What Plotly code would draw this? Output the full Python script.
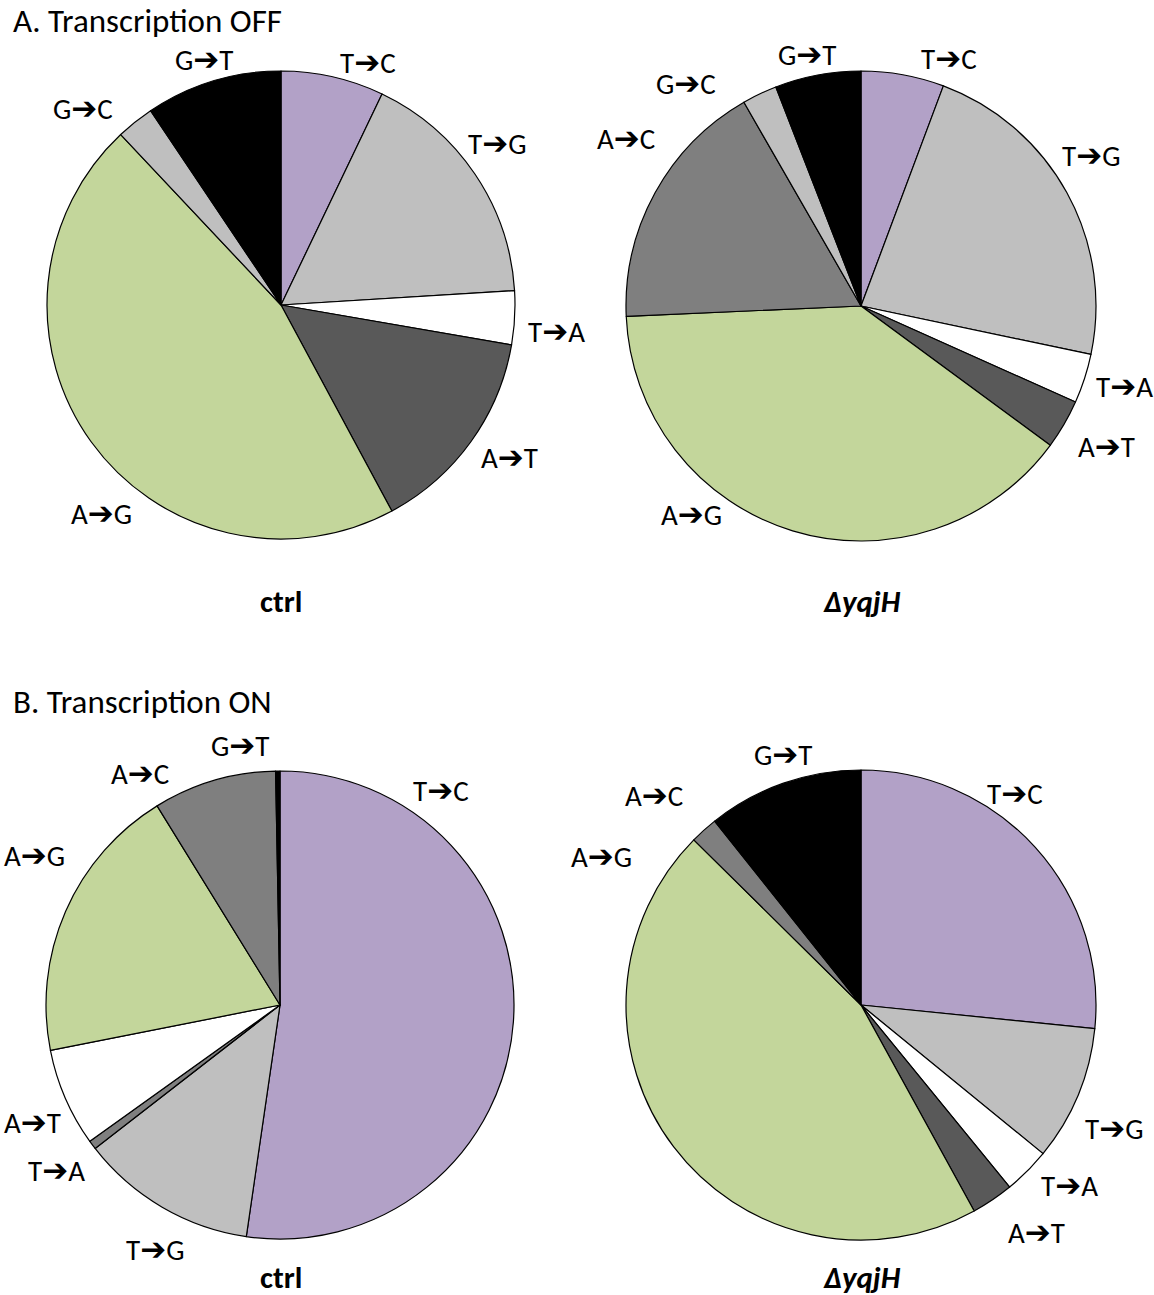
import plotly.graph_objects as go

# Mutation spectra (% of events), slices listed clockwise from 12 o'clock
off_ctrl_labels = ["T➔C", "T➔G", "T➔A", "A➔T", "A➔G", "G➔C", "G➔T"]
off_ctrl_values = [7.1, 16.9, 3.7, 14.4, 45.8, 2.6, 9.4]

off_yqjh_labels = ["T➔C", "T➔G", "T➔A", "A➔T", "A➔G", "A➔C", "G➔C", "G➔T"]
off_yqjh_values = [5.7, 22.6, 3.4, 3.4, 39.2, 17.4, 2.4, 5.9]

on_ctrl_labels = ["T➔C", "T➔G", "T➔A", "A➔T", "A➔G", "A➔C", "G➔T"]
on_ctrl_values = [52.3, 12.2, 0.6, 6.8, 19.3, 8.5, 0.3]

on_yqjh_labels = ["T➔C", "T➔G", "T➔A", "A➔T", "A➔G", "A➔C", "G➔T"]
on_yqjh_values = [26.6, 9.3, 3.2, 2.9, 45.4, 1.9, 10.7]

PURPLE = "#b2a1c7"
LIGHT = "#bfbfbf"
WHITE = "#ffffff"
DARK = "#595959"
GREEN = "#c3d69b"
MID = "#7f7f7f"
BLACK = "#000000"

off_ctrl_colors = [PURPLE, LIGHT, WHITE, DARK, GREEN, LIGHT, BLACK]
off_yqjh_colors = [PURPLE, LIGHT, WHITE, DARK, GREEN, MID, LIGHT, BLACK]
on_ctrl_colors = [PURPLE, LIGHT, MID, WHITE, GREEN, MID, BLACK]
on_yqjh_colors = [PURPLE, LIGHT, WHITE, DARK, GREEN, MID, BLACK]

W, H = 1154, 1295
FONT = "Carlito, Calibri, Lato, DejaVu Sans, sans-serif"


def px_x(x):
    return x / W


def px_y(y):
    return 1 - y / H


def pie_domain(cx, cy, r):
    return dict(x=[px_x(cx - r), px_x(cx + r)], y=[px_y(cy + r), px_y(cy - r)])


def arrow_label(text):
    # heavier arrow between the two bases
    src, dst = text.split("➔")
    return f"{src}<span style='font-size:31px'><b>➔</b></span>{dst}"


# pie centre and radius in pixels
pies = [
    (off_ctrl_labels, off_ctrl_values, off_ctrl_colors, (281, 305, 234)),
    (off_yqjh_labels, off_yqjh_values, off_yqjh_colors, (861, 306, 235)),
    (on_ctrl_labels, on_ctrl_values, on_ctrl_colors, (280, 1005, 234)),
    (on_yqjh_labels, on_yqjh_values, on_yqjh_colors, (861, 1005, 235)),
]

fig = go.Figure()
for labels, values, colors, (cx, cy, r) in pies:
    fig.add_trace(go.Pie(
        labels=labels,
        values=values,
        sort=False,
        direction="clockwise",
        rotation=0,
        textinfo="none",
        hoverinfo="label+percent",
        showlegend=False,
        marker=dict(colors=colors, line=dict(color="#000000", width=1.2)),
        domain=pie_domain(cx, cy, r),
    ))

# slice label placements (pixel centres)
label_pos = [
    # Transcription OFF, ctrl
    ("G➔T", 204, 59), ("T➔C", 368, 62), ("G➔C", 83, 108), ("T➔G", 497, 143),
    ("T➔A", 556, 331), ("A➔T", 509, 457), ("A➔G", 101, 513),
    # Transcription OFF, ΔyqjH
    ("G➔T", 807, 54), ("T➔C", 949, 58), ("G➔C", 686, 83), ("A➔C", 626, 138),
    ("T➔G", 1091, 155), ("T➔A", 1124, 386), ("A➔T", 1106, 446), ("A➔G", 691, 514),
    # Transcription ON, ctrl
    ("G➔T", 240, 745), ("A➔C", 140, 773), ("T➔C", 441, 790), ("A➔G", 34, 855),
    ("A➔T", 32, 1122), ("T➔A", 56, 1170), ("T➔G", 155, 1249),
    # Transcription ON, ΔyqjH
    ("G➔T", 783, 754), ("A➔C", 654, 795), ("T➔C", 1015, 793), ("A➔G", 601, 856),
    ("T➔G", 1114, 1128), ("T➔A", 1069, 1185), ("A➔T", 1036, 1232),
]

annotations = []
for text, x, y in label_pos:
    annotations.append(dict(
        text=arrow_label(text), x=px_x(x), y=px_y(y), xref="paper", yref="paper",
        xanchor="center", yanchor="middle", showarrow=False,
        font=dict(family=FONT, size=29, color="#000000"),
    ))

# panel headings
for text, y in [("A. Transcription OFF", 21), ("B. Transcription ON", 702)]:
    annotations.append(dict(
        text=text, x=px_x(11), y=px_y(y), xref="paper", yref="paper",
        xanchor="left", yanchor="middle", showarrow=False,
        font=dict(family=FONT, size=33, color="#000000"),
    ))

# strain captions
for text, x, y in [
    ("<b>ctrl</b>", 281, 601), ("<b><i>ΔyqjH</i></b>", 862, 601),
    ("<b>ctrl</b>", 281, 1277), ("<b><i>ΔyqjH</i></b>", 862, 1277),
]:
    annotations.append(dict(
        text=text, x=px_x(x), y=px_y(y), xref="paper", yref="paper",
        xanchor="center", yanchor="middle", showarrow=False,
        font=dict(family=FONT, size=31, color="#000000"),
    ))

fig.update_layout(
    width=W, height=H,
    margin=dict(l=0, r=0, t=0, b=0),
    paper_bgcolor="#ffffff",
    plot_bgcolor="#ffffff",
    annotations=annotations,
)

fig.write_html("out.html")
